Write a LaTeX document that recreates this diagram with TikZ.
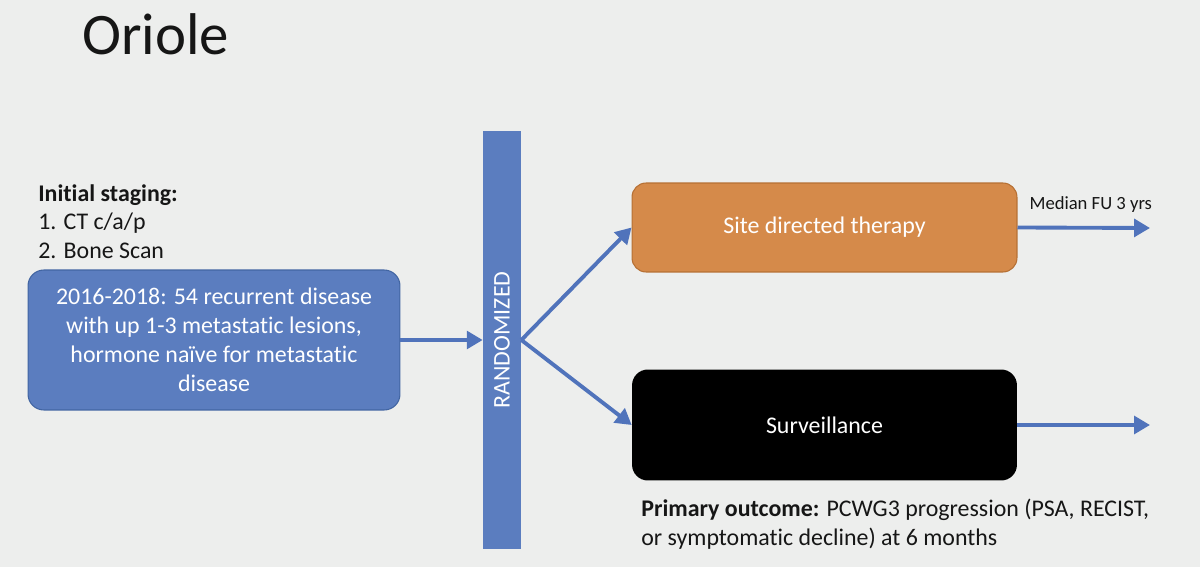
\documentclass[tikz,border=0pt]{standalone}
\usepackage{fontspec}
\setmainfont{Carlito}[Ligatures=CommonOff]
\usetikzlibrary{arrows.meta}
\definecolor{slidebg}{RGB}{237,238,237}
\definecolor{boxblue}{RGB}{91,125,191}
\definecolor{edgeblue}{RGB}{66,101,162}
\definecolor{arrblue}{RGB}{80,115,187}
\definecolor{sdtorange}{RGB}{213,138,74}
\definecolor{edgeorange}{RGB}{182,112,52}
\definecolor{txtdark}{RGB}{22,22,22}
\tikzstyle{bx}=[rounded corners=9pt,align=center,text=white,inner sep=0pt,font=\fontsize{13.6}{16.5}\selectfont]
\tikzstyle{arr}=[draw=arrblue,line width=2.2pt,-{Triangle[length=9pt,width=10pt]}]
\tikzstyle{lbl}=[text=txtdark,inner sep=0pt,align=left]

\begin{document}
\begin{tikzpicture}[x=0.02cm,y=-0.02cm]
\fill[slidebg] (0,0) rectangle (1200,567);
\node[lbl,anchor=base west,font=\fontsize{33.5}{33.5}\selectfont] (title) at (82,55) {Oriole};
% staging and cohort
\node[lbl,anchor=north west,font=\fontsize{13.6}{16.4}\selectfont] (staging) at (38,184)
  {\textbf{Initial staging:}\\1. CT c/a/p\\2. Bone Scan};
\node[bx,fill=boxblue,draw=edgeblue,line width=.6pt,minimum width=7.44cm,minimum height=2.8cm] (cohort) at (214,340)
  {2016-2018: 54 recurrent disease\\with up 1-3 metastatic lesions,\\hormone naïve for metastatic\\disease};
\node[bx,rounded corners=0pt,fill=boxblue,rotate=90,minimum width=8.36cm,minimum height=0.76cm] (rand) at (502,340) {RANDOMIZED};
% arms
\node[bx,fill=sdtorange,draw=edgeorange,line width=.6pt,rounded corners=8pt,minimum width=7.7cm,minimum height=1.78cm] (sdt) at (824.5,227.5) {Site directed therapy};
\node[bx,fill=black,rounded corners=9pt,minimum width=7.7cm,minimum height=2.22cm] (surv) at (824.5,425) {Surveillance};
\coordinate (sdtend) at (1150,228);
\coordinate (survend) at (1150,425);
\node[lbl,anchor=north west,font=\fontsize{13.6}{16.6}\selectfont] (outcome) at (641,499)
  {\textbf{Primary outcome:} PCWG3 progression (PSA, RECIST,\\or symptomatic decline) at 6 months};
% connectors
\draw[arr] (cohort.east) -- (rand.north);
\draw[arr] (rand.south) -- (sdt.west);
\draw[arr] (rand.south) -- (surv.west);
\draw[arr] (sdt.east) -- (sdtend) node[midway,above=4pt,xshift=4pt,text=txtdark,font=\fontsize{10.6}{10.6}\selectfont] (fu) {Median FU 3 yrs};
\draw[arr] (surv.east) -- (survend);
\end{tikzpicture}
\end{document}
